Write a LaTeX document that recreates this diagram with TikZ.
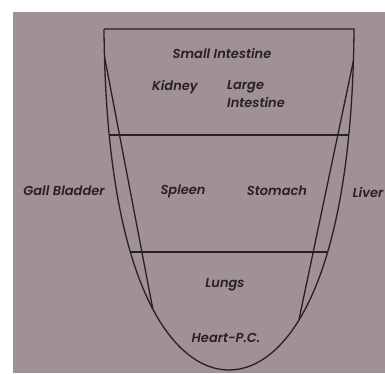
\documentclass[tikz,border=0pt]{standalone}
\usepackage{fontspec}
\setmainfont{Poppins}[BoldItalicFont={Poppins SemiBold Italic}]
\usepackage{tikz}
\usetikzlibrary{positioning, calc}

\definecolor{paper}{RGB}{160,146,148}
\definecolor{ink}{RGB}{40,32,34}

\begin{document}
\begin{tikzpicture}[
    x=1pt, y=-1pt,
    organ/.style={text=ink, font=\bfseries\itshape\fontsize{13}{18}\selectfont, inner sep=0pt, align=left},
    outline/.style={draw=ink, line width=1.3pt, line join=round}
]

% Paper
\useasboundingbox (0,0) rectangle (385,373);
\fill[white] (0,0) rectangle (385,373);
\fill[paper] (13,12) rectangle (385,373);

% Outline of the cup
\coordinate (top-left) at (104,29);
\coordinate (top-right) at (354,29);
\coordinate (bottom) at (229,370);
\draw[outline] (top-left) -- (top-right)
    .. controls (352,290) and (283,370) .. (bottom)
    .. controls (175,370) and (106,290) .. (top-left);

% Dividers and inner lines, cut at the outline
\begin{scope}
    \clip (top-left) -- (top-right)
        .. controls (352,290) and (283,370) .. (bottom)
        .. controls (175,370) and (106,290) .. (top-left) -- cycle;
    \draw[outline] (60,135) -- (400,135);
    \draw[outline] (60,252) -- (400,252);
    \draw[outline] ($(104,54)!-0.1!(153,310)$) -- ($(104,54)!1.1!(153,310)$);
    \draw[outline] ($(354,58)!-0.1!(301,310)$) -- ($(354,58)!1.1!(301,310)$);
\end{scope}

% Nodes
\node[organ] (small-int) at (222,53) {Small Intestine};
\node[organ] (kidney) at (175,87) {Kidney};
\node[organ, anchor=west] (large-int) at (227,94) {Large\\Intestine};
\node[organ] (gall) at (64,191) {Gall Bladder};
\node[organ] (spleen) at (183,191) {Spleen};
\node[organ] (stomach) at (277,191) {Stomach};
\node[organ] (liver) at (368,192) {Liver};
\node[organ] (lungs) at (225,285) {Lungs};
\node[organ] (heart) at (226,338) {Heart-P.C.};

\end{tikzpicture}
\end{document}
